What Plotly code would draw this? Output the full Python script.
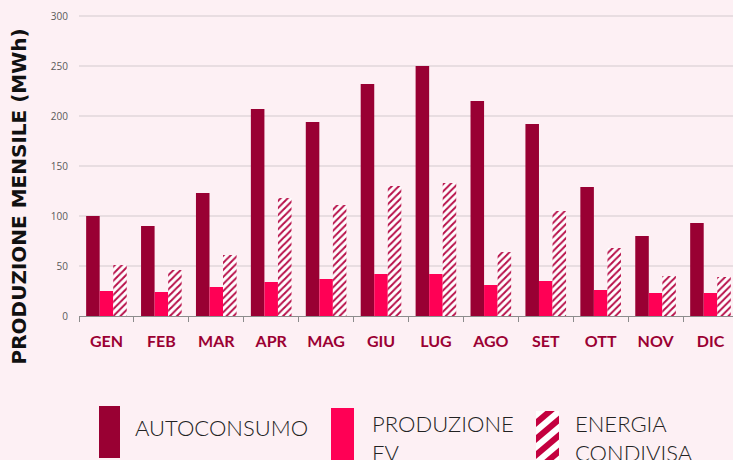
import plotly.graph_objects as go

# ---------------- data ----------------
months = ["GEN", "FEB", "MAR", "APR", "MAG", "GIU", "LUG", "AGO", "SET", "OTT", "NOV", "DIC"]
autoconsumo = [100, 90, 123, 207, 194, 232, 250, 215, 192, 129, 80, 93]
produzione_fv = [25, 24, 29, 34, 37, 42, 42, 31, 35, 26, 23, 23]
energia_condivisa = [51, 46, 61, 118, 111, 130, 133, 64, 105, 68, 40, 39]
y_ticks = [0, 50, 100, 150, 200, 250, 300]
series_names = ["AUTOCONSUMO", "PRODUZIONE FV", "ENERGIA CONDIVISA"]
legend_labels = ["AUTOCONSUMO", "PRODUZIONE<br>FV", "ENERGIA<br>CONDIVISA"]
y_title = "PRODUZIONE MENSILE (MWh)"

# ---------------- styles ----------------
C_AUTO = "#990033"
C_FV = "#ff0055"
C_HATCH = "#b8104a"
BG = "#fdf0f4"

W, H = 733, 460
L, R, T, B = 79, 0, 11, 144
PW = W - L - R
PH = H - T - B
Y_MAX = 305


def px(x):
    return (x - L) / PW


def py(y):
    return (H - B - y) / PH


fig = go.Figure()
fig.add_trace(go.Bar(x=months, y=autoconsumo, name=series_names[0],
                     marker=dict(color=C_AUTO, line=dict(width=0)), showlegend=False))
fig.add_trace(go.Bar(x=months, y=produzione_fv, name=series_names[1],
                     marker=dict(color=C_FV, line=dict(width=0)), showlegend=False))
fig.add_trace(go.Bar(x=months, y=energia_condivisa, name=series_names[2],
                     marker=dict(color="white", line=dict(width=0),
                                 pattern=dict(shape="/", fgcolor=C_HATCH, bgcolor="white",
                                              size=5, solidity=0.4, fillmode="replace")),
                     showlegend=False))

# ---------------- legend (custom swatches) ----------------
shapes = []
annotations = []


def rect(x0, y0, x1, y1, color):
    shapes.append(dict(type="rect", xref="paper", yref="paper",
                       x0=px(x0), x1=px(x1), y0=py(y1), y1=py(y0),
                       fillcolor=color, line=dict(width=0), layer="above"))


def clip(poly, x0, y0, x1, y1):
    def clip_edge(pts, inside, inter):
        out = []
        n = len(pts)
        for i in range(n):
            cur, prev = pts[i], pts[i - 1]
            if inside(cur):
                if not inside(prev):
                    out.append(inter(prev, cur))
                out.append(cur)
            elif inside(prev):
                out.append(inter(prev, cur))
        return out

    def ix(xc):
        return lambda p, q: (xc, p[1] + (q[1] - p[1]) * (xc - p[0]) / (q[0] - p[0]))

    def iy(yc):
        return lambda p, q: (p[0] + (q[0] - p[0]) * (yc - p[1]) / (q[1] - p[1]), yc)

    pts = poly
    pts = clip_edge(pts, lambda p: p[0] >= x0, ix(x0)) if pts else pts
    pts = clip_edge(pts, lambda p: p[0] <= x1, ix(x1)) if pts else pts
    pts = clip_edge(pts, lambda p: p[1] >= y0, iy(y0)) if pts else pts
    pts = clip_edge(pts, lambda p: p[1] <= y1, iy(y1)) if pts else pts
    return pts


def hatch_swatch(x0, y0, x1, y1, color, slope=0.85, period=16, thick=8):
    rect(x0, y0, x1, y1, "white")
    c = y0 - 40
    while c < y1 + 40:
        xa, xb = x0 - 5, x1 + 5
        poly = [(xa, c - slope * (xa - x0)), (xb, c - slope * (xb - x0)),
                (xb, c + thick - slope * (xb - x0)), (xa, c + thick - slope * (xa - x0))]
        cl = clip(poly, x0, y0, x1, y1)
        if len(cl) >= 3:
            path = "M " + " L ".join(f"{px(p[0]):.5f},{py(p[1]):.5f}" for p in cl) + " Z"
            shapes.append(dict(type="path", xref="paper", yref="paper", path=path,
                               fillcolor=color, line=dict(width=0), layer="above"))
        c += period


rect(99, 406, 120, 458, C_AUTO)
rect(331, 408, 354, 470, C_FV)
hatch_swatch(536, 411, 559, 470, "#c4003f")

legend_font = dict(family="Lato", size=22, color="#222222", weight=300)
annotations.append(dict(xref="paper", yref="paper", x=px(133), y=py(427), text=legend_labels[0],
                        showarrow=False, xanchor="left", yanchor="middle", align="left",
                        font=legend_font))
annotations.append(dict(xref="paper", yref="paper", x=px(370), y=py(438.5), text=legend_labels[1],
                        showarrow=False, xanchor="left", yanchor="middle", align="left",
                        font=legend_font))
annotations.append(dict(xref="paper", yref="paper", x=px(573), y=py(438.5), text=legend_labels[2],
                        showarrow=False, xanchor="left", yanchor="middle", align="left",
                        font=legend_font))

# y axis title
annotations.append(dict(xref="paper", yref="paper", x=px(18.5), y=py(197), text=y_title,
                        showarrow=False, textangle=-90, xanchor="center", yanchor="middle",
                        font=dict(family="DejaVu Sans", size=20, color="#111111", weight="bold")))

fig.update_layout(
    width=W, height=H,
    margin=dict(l=L, r=R, t=T, b=B, pad=0),
    paper_bgcolor=BG, plot_bgcolor=BG,
    barmode="group", bargap=0.26, bargroupgap=0,
    shapes=shapes, annotations=annotations,
    showlegend=False,
    xaxis=dict(range=[-0.5, 11.41], showgrid=False, zeroline=False,
               showline=True, linecolor="#8c8c8c", linewidth=1,
               ticks="outside", tickson="boundaries", ticklen=5, tickcolor="#8c8c8c",
               tickfont=dict(family="Lato", size=16, color="#9b0033", weight="bold"),
               ticklabelstandoff=11),
    yaxis=dict(range=[0, Y_MAX], tickvals=y_ticks, showgrid=True, gridcolor="#e8dde1",
               gridwidth=2, zeroline=False, showline=False, ticks="",
               tickfont=dict(family="Open Sans", size=10, color="#595959"),
               ticklabelstandoff=10),
)

fig.write_html("out.html",
               config={"displayModeBar": False},
               post_script="document.body.style.margin='0px';"
                           "document.body.style.padding='0px';"
                           "document.body.style.overflow='hidden';"
                           "document.documentElement.style.background='" + BG + "';")
